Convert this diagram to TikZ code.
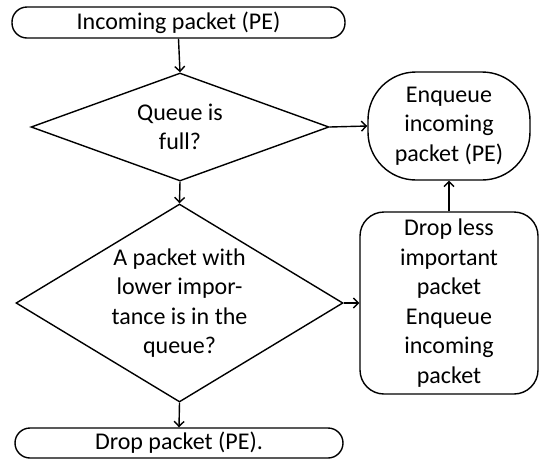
\documentclass[tikz,border=0pt]{standalone}
\usepackage{fontspec}
\setmainfont{Carlito}
\usetikzlibrary{shapes.geometric,arrows.meta}
\tikzset{
  every node/.style={font=\fontsize{24pt}{29.5pt}\selectfont, align=center, inner sep=0pt, line width=1.4pt},
  term/.style={draw, rectangle, rounded corners=15pt},
  dec/.style={draw, diamond},
  conn/.style={line width=1.4pt, -{Straight Barb[length=5pt,width=10pt,line width=1.4pt]}}
}
\begin{document}
\begin{tikzpicture}[x=1pt,y=-1pt]
\useasboundingbox (0,0) rectangle (541,459);
\node[term, minimum width=333pt, minimum height=31pt] (top) at (178.5,22.5) {Incoming packet (PE)};
\node[dec, minimum width=298pt, minimum height=108pt] (d1) at (180,127) {};
\node (d1t) at (d1.center) {Queue is\\full?};
\node[dec, minimum width=327pt, minimum height=198pt] (d2) at (179.5,303) {};
\node (d2t) at (d2.center) {A packet with\\lower impor-\\tance is in the\\queue?};
\node[term, minimum width=328pt, minimum height=30pt] (bot) at (179,443) {Drop packet (PE).};
\node[draw, rectangle, rounded corners=48pt, minimum width=162pt, minimum height=108pt] (enq) at (449,126) {Enqueue\\incoming\\packet (PE)};
\node[draw, rectangle, rounded corners=24pt, minimum width=178pt, minimum height=182pt] (drop) at (449,303) {Drop less\\important\\packet\\Enqueue\\incoming\\packet};
\draw[conn] (top.south) -- (d1.north);
\draw[conn] (d1.south) -- (d2.north);
\draw[conn] (d2.south) -- (bot.north);
\draw[conn] (d1.east) -- (enq.west);
\draw[conn] (d2.east) -- (drop.west);
\draw[conn] (drop.north) -- (enq.south);
\end{tikzpicture}
\end{document}
